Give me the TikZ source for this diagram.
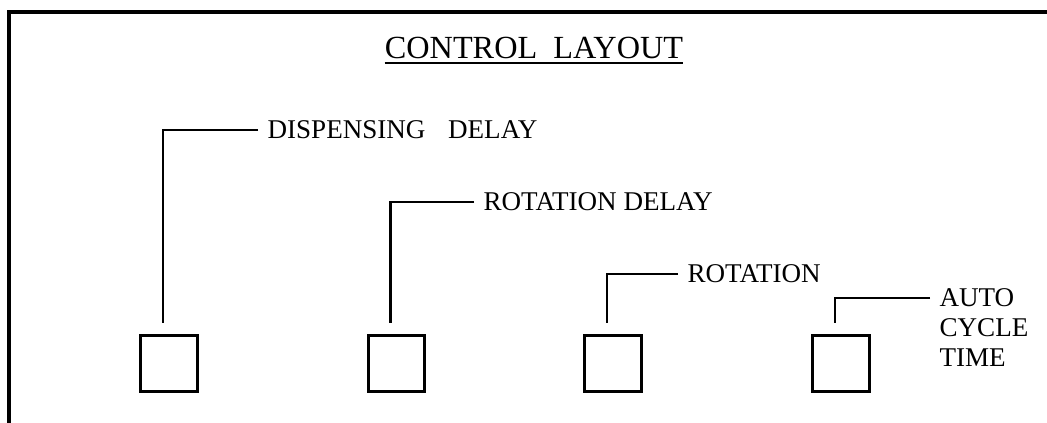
\documentclass[tikz,border=0pt]{standalone}
\usepackage{fontspec}
\setmainfont{Liberation Serif}
\tikzset{
  knob/.style = {
    rectangle,
    draw=black,
    line width=2.4pt,
    minimum size=42.5pt,
    inner sep=0pt
  },
  tag/.style = {
    anchor=west,
    inner xsep=7pt,
    inner ysep=0pt,
    align=left,
    font=\fontsize{20.3}{22.5}\selectfont
  },
  leader/.style = {
    line width=1.7pt,
    draw=black
  },
  frame/.style = {
    line width=2.6pt,
    draw=black
  }
}

\begin{document}
\begin{tikzpicture}[x=0.75pt, y=-0.75pt]
\useasboundingbox (0,0) rectangle (1047,423);

% ===== Frame (top and left edge) =====
\draw [frame] (1047,12) -- (9,12) -- (9,423);

% ===== Title =====
\node (title) [inner sep=0pt, font=\fontsize{24.2}{27}\selectfont] at (534,48) {CONTROL\ \ LAYOUT};
\draw [line width=1.5pt] ([yshift=-3pt]title.south west) -- ([yshift=-3pt]title.south east);

% ===== Knobs =====
\node (b1) [knob] at (169,363.5) {};
\node (b2) [knob] at (396.5,363.5) {};
\node (b3) [knob] at (613,363.5) {};
\node (b4) [knob] at (841,363.5) {};

% ===== Labels =====
\node (dd) [tag] at (258,130) {DISPENSING\hspace{17pt}DELAY};
\node (rd) [tag] at (474,202) {ROTATION DELAY};
\node (ro) [tag] at (678,274) {ROTATION};
\node (ac) [tag, anchor=north west] at (930,288) {AUTO\\CYCLE\\TIME};

% ===== Leaders (label -> knob) =====
\draw [leader] (dd.west) -| ([xshift=-4.5pt, yshift=8pt]b1.north);
\draw [leader] (rd.west) -| ([xshift=-4.5pt, yshift=8pt]b2.north);
\draw [leader] (ro.west) -| ([xshift=-4.5pt, yshift=8pt]b3.north);
\draw [leader] ([yshift=-7.5pt]ac.north west) -| ([xshift=-4.5pt, yshift=8pt]b4.north);

\end{tikzpicture}
\end{document}
